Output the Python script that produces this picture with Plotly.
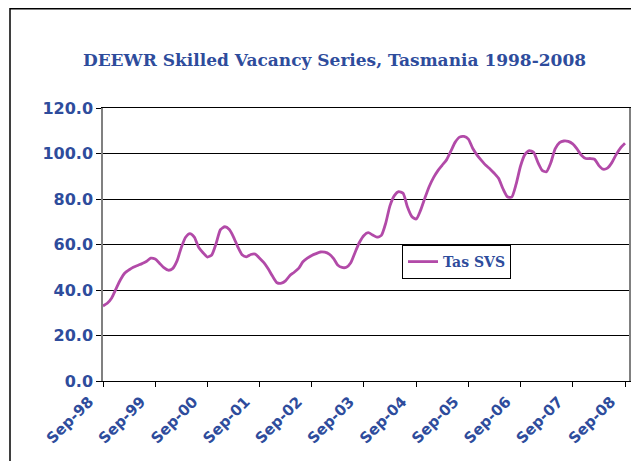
import pandas as pd
import plotly.graph_objects as go

# Monthly dates Sep-1998 .. Sep-2008
dates = pd.date_range("1998-09-01", "2008-09-01", freq="MS").strftime("%Y-%m-%d").tolist()

tas_svs = [
    33.0, 34.2, 36.5, 40.5, 44.5, 47.5, 48.8, 50.0, 50.8, 51.6, 52.5, 54.0,
    53.6, 51.8, 49.8, 48.7, 49.4, 52.8, 58.5, 63.2, 64.8, 63.2, 58.8, 56.4,
    54.5, 55.4, 60.5, 66.5, 67.8, 66.6, 63.5, 59.0, 55.5, 54.6, 55.6, 55.8,
    54.0, 52.0, 49.2, 46.0, 43.2, 43.0, 44.0, 46.4, 47.8, 49.5, 52.4, 54.0,
    55.2, 56.0, 56.7, 56.6, 55.8, 53.8, 51.0, 49.9, 50.0, 52.0, 56.5, 61.0,
    64.0, 65.2, 64.2, 63.2, 64.0, 69.5, 77.0, 81.5, 83.2, 82.5, 76.6, 72.3,
    71.2, 75.0, 80.5, 85.5, 89.5, 92.6, 94.8, 97.2, 101.0, 105.0, 107.2, 107.5,
    106.3, 102.3, 99.3, 97.0, 94.8, 93.1, 91.3, 89.0, 84.5, 81.0, 80.8, 86.5,
    94.5, 99.5, 101.3, 100.5, 96.0, 92.5, 92.0, 96.0, 102.0, 104.8, 105.5, 105.3,
    104.2, 102.0, 99.2, 97.8, 97.8, 97.5, 94.8, 93.1, 93.6, 96.0, 99.5, 102.5,
    104.5,
]

tick_dates = [f"{y}-09-01" for y in range(1998, 2009)]
tick_labels = [f"Sep-{str(y)[2:]}" for y in range(1998, 2009)]
y_ticks = [0, 20, 40, 60, 80, 100, 120]
y_labels = [f"{v:.1f}" for v in y_ticks]

BLUE = "#2E4C9C"
LINE = "#B24AA8"

# page body has an 8px margin; figure is sized/placed to compensate
W, H = 623, 453
L, R, T, B = 95, 2, 100, 80
PW = W - L - R
PH = H - T - B

fig = go.Figure()
fig.add_trace(go.Scatter(
    x=dates, y=tas_svs, mode="lines", name="<b>Tas SVS</b>",
    line=dict(color=LINE, width=2.8, shape="spline", smoothing=0.6),
))

fig.update_layout(
    width=W, height=H,
    margin=dict(l=L, r=R, t=T, b=B),
    paper_bgcolor="white", plot_bgcolor="white",
    title=dict(
        text="<b>DEEWR Skilled Vacancy Series, Tasmania 1998-2008</b>",
        x=326.5 / W, xanchor="center", xref="container",
        y=1 - 52 / H, yanchor="middle", yref="container",
        font=dict(family="DejaVu Serif", size=17, color=BLUE),
    ),
    showlegend=True,
    legend=dict(
        x=(394 - L) / PW, xanchor="left",
        y=(H - B - 237) / PH, yanchor="top",
        bgcolor="white", bordercolor="black", borderwidth=1,
        font=dict(family="DejaVu Serif", size=14, color=BLUE),
        itemwidth=30,
        tracegroupgap=0,
    ),
    xaxis=dict(
        type="date",
        range=["1998-09-01", "2008-09-29"],
        tickvals=tick_dates, ticktext=tick_labels,
        tickangle=-45,
        automargin=False,
        ticklabeloverflow="allow",
        ticklabelshift=-14,
        ticks="outside", ticklen=5, tickcolor="black",
        showgrid=False, zeroline=False,
        showline=True, linecolor="black", linewidth=1, mirror=True,
        tickfont=dict(family="DejaVu Sans", size=15, color=BLUE, weight="bold"),
    ),
    yaxis=dict(
        range=[0, 120],
        tickvals=y_ticks, ticktext=y_labels,
        automargin=False,
        ticks="outside", ticklen=5, tickcolor="black",
        showgrid=True, gridcolor="black", gridwidth=1,
        zeroline=False,
        showline=True, linecolor="#808080", linewidth=1.5, mirror=True,
        tickfont=dict(family="DejaVu Sans", size=16, color=BLUE, weight="bold"),
    ),
)

# outer chart-area frame (open at right and bottom, as cropped in reference)
fig.add_shape(
    type="rect", xref="paper", yref="paper",
    x0=(2 - L) / PW, x1=(W + 10 - L) / PW,
    y0=(H - B - (H + 10)) / PH, y1=(H - B - 0.8) / PH,
    line=dict(color="black", width=1.5), fillcolor="rgba(0,0,0,0)",
    layer="below",
)

fig.write_html("out.html")
